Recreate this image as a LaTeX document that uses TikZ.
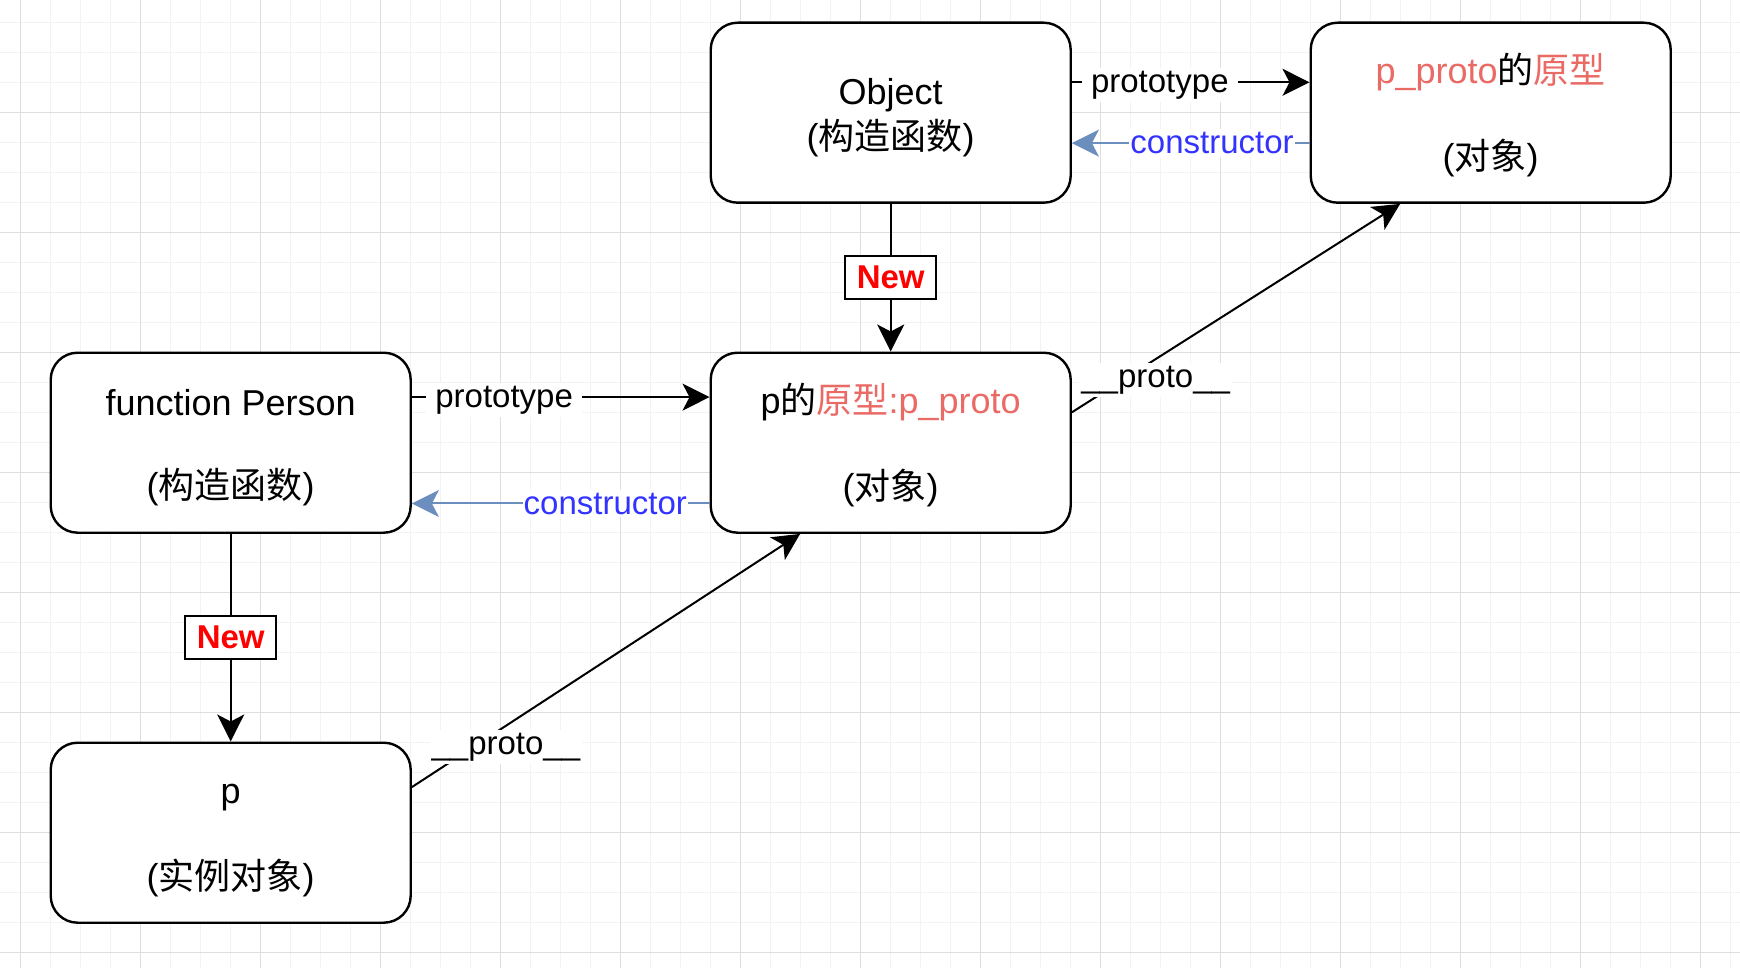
\documentclass[tikz,border=0pt]{standalone}
\usepackage{fontspec}
\setmainfont{Liberation Sans}
\newfontfamily\cjk{Noto Sans CJK SC}
\newcommand\zh[1]{{\cjk #1}}
\newcommand\lstrut{\rule[-5.5pt]{0pt}{41.5pt}}
\usetikzlibrary{arrows.meta,calc}
\definecolor{protored}{HTML}{EA6B66}
\definecolor{ctorline}{HTML}{6C8EBF}
\definecolor{ctortext}{HTML}{3333FF}
\definecolor{gridmajor}{RGB}{222,222,222}
\definecolor{gridminor}{RGB}{243,243,243}

\begin{document}
\begin{tikzpicture}[x=1pt, y=-1pt,
        box/.style={draw=black, line width=2.4pt, rounded corners=27pt, fill=white,
          minimum width=360pt, minimum height=180pt, align=center,
          font=\fontsize{36}{41.5}\selectfont},
        edge_style/.style={draw=black, line width=2pt, -{Stealth[length=27pt,width=27pt,inset=7pt]}},
        ctor_style/.style={edge_style, draw=ctorline},
        lbl/.style={fill=white, inner xsep=9pt, inner ysep=3pt, font=\fontsize{33}{38}\selectfont},
        ptype/.style={lbl, yshift=-3pt},
        ctor/.style={lbl, inner xsep=1pt, text=ctortext},
        proto/.style={lbl, inner xsep=2pt, yshift=-3pt},
        new/.style={draw=black, line width=2pt, fill=white, text=red, inner sep=0pt,
          minimum width=91pt, minimum height=43pt, font=\fontsize{33}{38}\selectfont\bfseries}]
        \useasboundingbox (0,0) rectangle (1740,968);
        % grid
        \fill[white] (0,0) rectangle (1740,968);
        \foreach \i in {0,...,57} \draw[gridminor, line width=1pt] ({20.7+30*\i},0) -- ({20.7+30*\i},968);
        \foreach \j in {0,...,31} \draw[gridminor, line width=1pt] (0,{22.7+30*\j}) -- (1740,{22.7+30*\j});
        \foreach \i in {0,...,14} \draw[gridmajor, line width=1.5pt] ({20.7+120*\i},0) -- ({20.7+120*\i},968);
        \foreach \j in {1,...,8} \draw[gridmajor, line width=1.5pt] (0,{-7.3+120*\j}) -- (1740,{-7.3+120*\j});

        \node[box] (obj) at (890.7,112.7) {\lstrut Object\\\lstrut(\zh{构造函数})};
        \node[box] (objproto) at (1490.7,112.7) {\lstrut\textcolor{protored}{p\_proto}\zh{的}\textcolor{protored}{\zh{原型}}\\[41.5pt]\lstrut(\zh{对象})};
        \node[box] (person) at (230.7,442.7) {\lstrut function Person\\[41.5pt]\lstrut(\zh{构造函数})};
        \node[box] (pproto) at (890.7,442.7) {\lstrut p\zh{的}\textcolor{protored}{\zh{原型}:p\_proto}\\[41.5pt]\lstrut(\zh{对象})};
        \node[box] (p) at (230.7,832.7) {\lstrut p\\[41.5pt]\lstrut(\zh{实例对象})};

        \draw[edge_style] (obj) -- (pproto) node[new, midway] {New};
        \draw[edge_style] (person) -- (p) node[new, midway] {New};
        \draw[edge_style] ($(obj.north east)!.3333!(obj.south east)$) -- ($(objproto.north west)!.3333!(objproto.south west)$) node[ptype, pos=.37] {prototype};
        \draw[ctor_style] ($(objproto.north west)!.6667!(objproto.south west)$) -- ($(obj.north east)!.6667!(obj.south east)$) node[ctor, pos=.41] {constructor};
        \draw[edge_style] ($(person.north east)!.25!(person.south east)$) -- ($(pproto.north west)!.25!(pproto.south west)$) node[ptype, pos=.31] {prototype};
        \draw[ctor_style] ($(pproto.north west)!.8333!(pproto.south west)$) -- ($(person.north east)!.8333!(person.south east)$) node[ctor, pos=.35] {constructor};
        \draw[edge_style] ($(p.north east)!.25!(p.south east)$) -- ($(pproto.south west)!.25!(pproto.south east)$) node[proto, pos=.17, xshift=28pt] {\_\_proto\_\_};
        \draw[edge_style] ($(pproto.north east)!.3333!(pproto.south east)$) -- ($(objproto.south west)!.25!(objproto.south east)$) node[proto, pos=.17, xshift=28pt] {\_\_proto\_\_};
      \end{tikzpicture}
\end{document}
